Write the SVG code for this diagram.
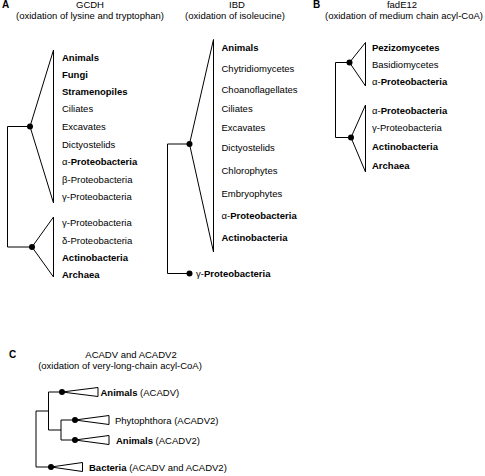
<svg xmlns="http://www.w3.org/2000/svg" width="485" height="476" viewBox="0 0 485 476">
<style>
text{font-family:"Liberation Sans",Arial,sans-serif;font-size:9.5px;fill:#000}
.b{font-weight:bold}
.t{text-anchor:middle}
.p{font-weight:bold;font-size:10px}
.ln{fill:none;stroke:#000;stroke-width:1}
.tri{fill:#fff;stroke:#000;stroke-width:1;stroke-linejoin:miter}
.dot{fill:#000}
</style>
<rect width="485" height="476" fill="#fff"/>
<g id="titles">
<text class="p" x="2" y="8">A</text>
<text class="t" x="90" y="8">GCDH</text>
<text class="t" x="90" y="18.5">(oxidation of lysine and tryptophan)</text>
<text class="t" x="237" y="8">IBD</text>
<text class="t" x="235" y="18.5">(oxidation of isoleucine)</text>
<text class="p" x="313" y="8">B</text>
<text class="t" x="402" y="8">fadE12</text>
<text class="t" x="404" y="18.5">(oxidation of medium chain acyl-CoA)</text>
<text class="p" x="9" y="358">C</text>
<text class="t" x="131" y="358">ACADV and ACADV2</text>
<text class="t" x="120" y="369">(oxidation of very-long-chain acyl-CoA)</text>
</g>
<g id="connectors">
<path class="ln" d="M30,126.5H7.5V247H32"/>
<path class="ln" d="M189.5,144H167.5V273.5H189.5"/>
<path class="ln" d="M349.5,62.5H335.5V137.5H351"/>
<path class="ln" d="M62,392H48.5V430H61V420H75M61,430V440H75M48.5,411H36V467H51"/>
</g>
<g id="gcdh-clade1">
<path class="tri" d="M53.5,50L30,126.5L53.5,203Z"/>
<circle class="dot" cx="30" cy="126.5" r="3"/>
<text class="b" x="62" y="60.5">Animals</text>
<text class="b" x="62" y="77.5">Fungi</text>
<text class="b" x="62" y="94.5">Stramenopiles</text>
<text x="62" y="112">Ciliates</text>
<text x="62" y="129.5">Excavates</text>
<text x="62" y="147.5">Dictyostelids</text>
<text x="62" y="165">α-<tspan class="b">Proteobacteria</tspan></text>
<text x="62" y="182.5">β-Proteobacteria</text>
<text x="62" y="199.5">γ-Proteobacteria</text>
</g>
<g id="gcdh-clade2">
<path class="tri" d="M53.5,217L32,247L53.5,277Z"/>
<circle class="dot" cx="32" cy="247" r="3"/>
<text x="62" y="226">γ-Proteobacteria</text>
<text x="62" y="243.5">δ-Proteobacteria</text>
<text class="b" x="62" y="260.5">Actinobacteria</text>
<text class="b" x="62" y="277.5">Archaea</text>
</g>
<g id="ibd-clade1">
<path class="tri" d="M213.5,39.5L189.5,144L213.5,252Z"/>
<circle class="dot" cx="189.5" cy="144" r="3"/>
<text class="b" x="221.5" y="50.5">Animals</text>
<text x="221.5" y="71.5">Chytridiomycetes</text>
<text x="221.5" y="92.5">Choanoflagellates</text>
<text x="221.5" y="111.5">Ciliates</text>
<text x="221.5" y="130.5">Excavates</text>
<text x="221.5" y="150.5">Dictyostelids</text>
<text x="221.5" y="173.5">Chlorophytes</text>
<text x="221.5" y="196.5">Embryophytes</text>
<text x="221.5" y="218.5">α-<tspan class="b">Proteobacteria</tspan></text>
<text class="b" x="221.5" y="240.5">Actinobacteria</text>
</g>
<g id="ibd-leaf">
<circle class="dot" cx="189.5" cy="273.5" r="3"/>
<text x="196" y="277">γ-<tspan class="b">Proteobacteria</tspan></text>
</g>
<g id="fade12-clade1">
<path class="tri" d="M365.5,42.5L349.5,62.5L365.5,86Z"/>
<circle class="dot" cx="349.5" cy="62.5" r="3"/>
<text class="b" x="372" y="50.5">Pezizomycetes</text>
<text x="372" y="67.5">Basidiomycetes</text>
<text x="372" y="84.5">α-<tspan class="b">Proteobacteria</tspan></text>
</g>
<g id="fade12-clade2">
<path class="tri" d="M365.5,105L351,137.5L365.5,172Z"/>
<circle class="dot" cx="351" cy="137.5" r="3"/>
<text x="372" y="113.5">α-<tspan class="b">Proteobacteria</tspan></text>
<text x="372" y="131">γ-Proteobacteria</text>
<text class="b" x="372" y="150">Actinobacteria</text>
<text class="b" x="372" y="168.5">Archaea</text>
</g>
<g id="acadv-animals">
<path class="tri" d="M62,392L98,387.5V396.5Z"/>
<circle class="dot" cx="62" cy="392" r="3"/>
<text x="100.5" y="395.5"><tspan class="b">Animals</tspan> (ACADV)</text>
</g>
<g id="acadv2-phytophthora">
<path class="tri" d="M75,420L109,415.5V424.5Z"/>
<circle class="dot" cx="75" cy="420" r="3"/>
<text x="115" y="423.5">Phytophthora (ACADV2)</text>
</g>
<g id="acadv2-animals">
<path class="tri" d="M75,440L109,435.5V444.5Z"/>
<circle class="dot" cx="75" cy="440" r="3"/>
<text x="116" y="443.5"><tspan class="b">Animals</tspan> (ACADV2)</text>
</g>
<g id="bacteria">
<path class="tri" d="M51,467L82.5,462.5V471.5Z"/>
<circle class="dot" cx="51" cy="467" r="3"/>
<text x="89" y="470.5"><tspan class="b">Bacteria</tspan> (ACADV and ACADV2)</text>
</g>
</svg>
